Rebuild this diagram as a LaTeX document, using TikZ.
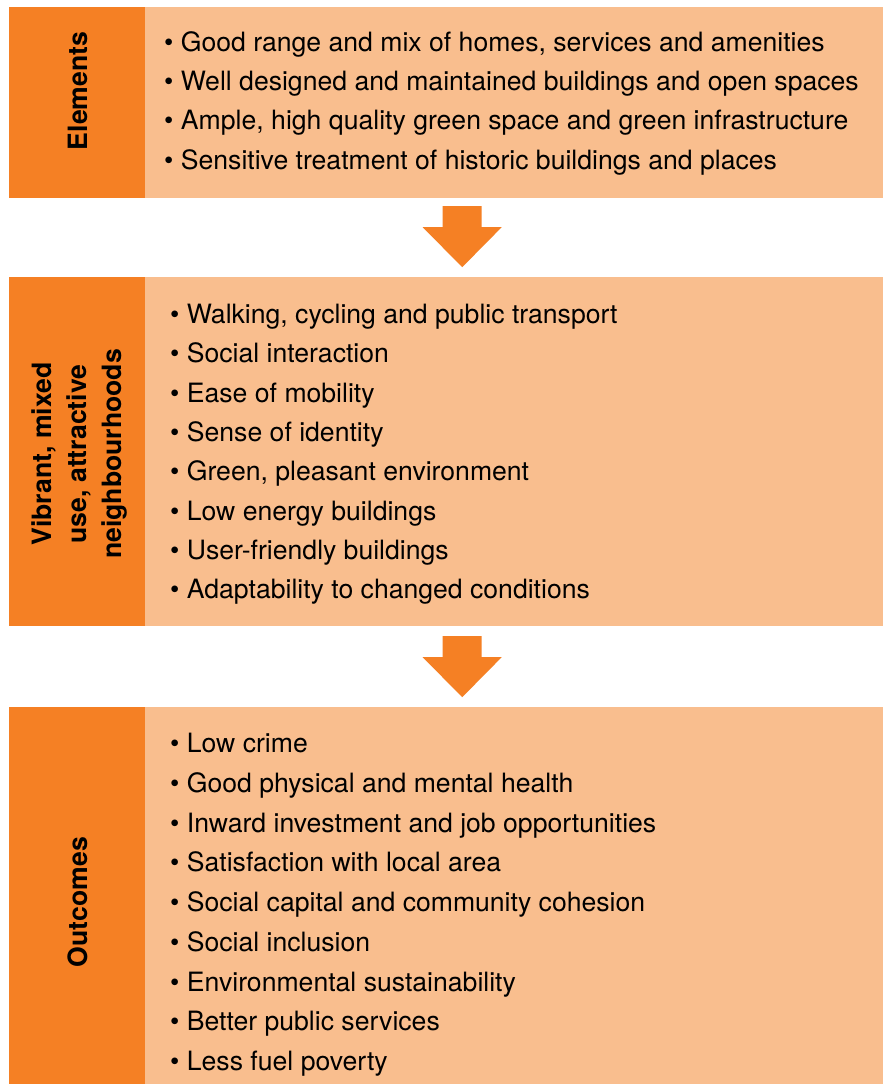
\documentclass[tikz,border=0pt]{standalone}
\usepackage{fontspec}
\setmainfont{TeX Gyre Heros}
\usetikzlibrary{positioning,calc}
\definecolor{darkorange}{HTML}{F58024}
\definecolor{lightorange}{HTML}{F9BE8E}
\tikzset{
	headbox/.style={fill=darkorange, minimum width=135.5pt, inner sep=0pt, anchor=north west},
	bodybox/.style={fill=lightorange, minimum width=739pt, inner sep=0pt, anchor=north west},
	headtext/.style={rotate=90, align=center, inner sep=0pt, font=\bfseries\fontsize{26.6}{35}\selectfont},
	item/.style={anchor=base west, inner sep=0pt, font=\fontsize{26.6}{30}\selectfont},
	downarrow/.pic={
		\fill[darkorange] (-19.5,-30.5) -- (19.5,-30.5) -- (19.5,-9.5) -- (39.5,-9.5)
			-- (0,30.5) -- (-39.5,-9.5) -- (-19.5,-9.5) -- cycle;
	}
}
\begin{document}
\begin{tikzpicture}[x=1pt, y=-1pt]
		\useasboundingbox[fill=white] (0,0) rectangle (883,1084);
		% the three stages
		\node[bodybox, minimum height=191pt] (body1) at (144,7) {};
		\node[headbox, minimum height=191pt] (head1) at (9,7) {};
		\node[bodybox, minimum height=349pt] (body2) at (144,277) {};
		\node[headbox, minimum height=349pt] (head2) at (9,277) {};
		\node[bodybox, minimum height=377pt] (body3) at (144,707) {};
		\node[headbox, minimum height=377pt] (head3) at (9,707) {};
		\node[headtext] (elements) at (78,91) {Elements};
		\node[headtext] (neighbourhoods) at (79,454) {Vibrant, mixed\\use, attractive\\neighbourhoods};
		\node[headtext] (outcomes) at (78,902) {Outcomes};
		% bullet lists
		\foreach \txt [count=\i] in {{Good range and mix of homes, services and amenities},
			Well designed and maintained buildings and open spaces,
			{Ample, high quality green space and green infrastructure},
			Sensitive treatment of historic buildings and places}{
			\node[item] (el\i) at ($(body1.north west)+(20,{44+(\i-1)*39.4})$) {\textbullet~\txt};
		}
		\foreach \txt [count=\i] in {{Walking, cycling and public transport},
			Social interaction, Ease of mobility, Sense of identity,
			{Green, pleasant environment}, Low energy buildings,
			User-friendly buildings, Adaptability to changed conditions}{
			\node[item] (nb\i) at ($(body2.north west)+(26,{46.5+(\i-1)*39.3})$) {\textbullet~\txt};
		}
		\foreach \txt [count=\i] in {Low crime, Good physical and mental health,
			Inward investment and job opportunities, Satisfaction with local area,
			Social capital and community cohesion, Social inclusion,
			Environmental sustainability, Better public services, Less fuel poverty}{
			\node[item] (oc\i) at ($(body3.north west)+(26,{45.5+(\i-1)*39.75})$) {\textbullet~\txt};
		}
		% arrows between stages
		\pic at ($($(body1.south)!0.5!(body2.north)$)+(-51.5,-1)$) {downarrow};
		\pic at ($($(body2.south)!0.5!(body3.north)$)+(-51.5,0)$) {downarrow};
	\end{tikzpicture}
\end{document}
